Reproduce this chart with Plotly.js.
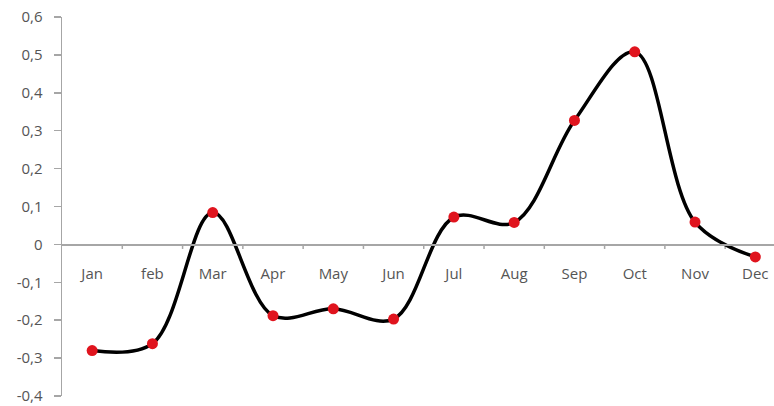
<!DOCTYPE html>
<html>
<head>
<meta charset="utf-8">
<script src="https://cdn.plot.ly/plotly-3.0.1.min.js"></script>
<style>html,body{margin:0;padding:0;background:#fff;}#chart{width:774px;height:406px;}</style>
</head>
<body>
<div id="chart"></div>
<script>
const months = ["Jan","feb","Mar","Apr","May","Jun","Jul","Aug","Sep","Oct","Nov","Dec"];
const values = [-0.28, -0.262, 0.084, -0.188, -0.17, -0.197, 0.072, 0.058, 0.327, 0.508, 0.059, -0.033];
const yTickVals = [-0.4, -0.3, -0.2, -0.1, 0, 0.1, 0.2, 0.3, 0.4, 0.5, 0.6];
const yTickText = ["-0,4","-0,3","-0,2","-0,1","0","0,1","0,2","0,3","0,4","0,5","0,6"];

const trace = {
  x: months.map((m, i) => i),
  y: values,
  type: 'scatter',
  mode: 'lines+markers',
  line: {shape: 'spline', smoothing: 1, color: '#000000', width: 3.5},
  marker: {color: '#e0141e', size: 11},
  cliponaxis: false,
  hoverinfo: 'skip'
};

const layout = {
  width: 774, height: 406,
  margin: {l: 62, r: 0, t: 17, b: 10},
  paper_bgcolor: '#ffffff', plot_bgcolor: '#ffffff',
  showlegend: false,
  font: {family: 'Open Sans, sans-serif', color: '#555555', size: 15},
  xaxis: {
    range: [-0.5, 11.31],
    tickvals: months.map((m, i) => i),
    ticktext: months,
    anchor: 'free', position: 0.4,
    showline: true, linecolor: '#a6a6a6', linewidth: 1.5,
    showgrid: false, zeroline: false,
    ticks: '', ticklen: 0,
    ticklabelstandoff: 15,
    tickfont: {size: 15, color: '#555555'}
  },
  yaxis: {
    range: [-0.4, 0.6],
    tickvals: yTickVals, ticktext: yTickText,
    showline: true, linecolor: '#a6a6a6', linewidth: 1.5,
    showgrid: false, zeroline: false,
    ticks: 'outside', ticklen: 7, tickcolor: '#a6a6a6', tickwidth: 1.5,
    ticklabelstandoff: 8,
    tickfont: {size: 15, color: '#555555'}
  },
  shapes: [0.5,1.5,2.5,3.5,4.5,5.5,6.5,7.5,8.5,9.5,10.5].map(b => ({
    type: 'line', xref: 'x', yref: 'y', x0: b, x1: b, y0: 0, y1: -0.012,
    line: {color: '#a6a6a6', width: 1.5}, layer: 'below'
  }))
};

Plotly.newPlot('chart', [trace], layout, {displayModeBar: false, staticPlot: true});
</script>
</body>
</html>
